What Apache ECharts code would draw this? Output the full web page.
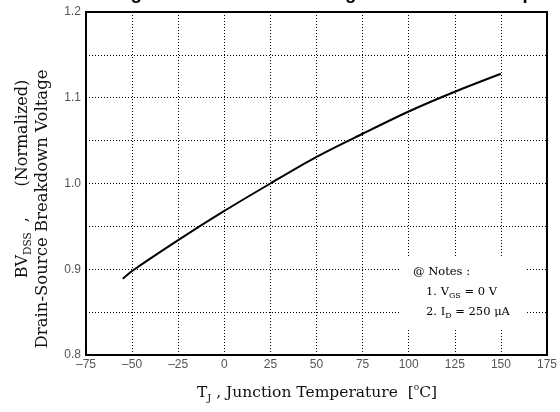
<!DOCTYPE html>
<html>
<head>
<meta charset="utf-8">
<script src="https://cdn.jsdelivr.net/npm/echarts@6/dist/echarts.min.js"></script>
<style>
html,body{margin:0;padding:0;background:#fff;}
#chart{width:560px;height:412px;}
</style>
</head>
<body>
<div id="chart"></div>
<script>
// Data
var temperatures = [-55, -50, -25, 0, 25, 50, 75, 100, 125, 150];
var bvdssNorm   = [0.889, 0.898, 0.934, 0.968, 1.000, 1.031, 1.058, 1.084, 1.107, 1.128];
var xTicks = [-75, -50, -25, 0, 25, 50, 75, 100, 125, 150, 175];
var yTicks = [0.8, 0.9, 1.0, 1.1, 1.2];

var titleText = 'Figure 7. Breakdown Voltage Variation vs. Temperature';

var chart = echarts.init(document.getElementById('chart'), null, {renderer: 'canvas'});

var serif = 'DejaVu Serif';
var tickFont = {color: '#555', fontFamily: 'Liberation Sans', fontSize: 12};

var option = {
  backgroundColor: '#fff',
  animation: false,
  title: {
    text: titleText,
    left: 114,
    top: -16,
    padding: 0,
    textStyle: {fontFamily: 'Liberation Sans', fontWeight: 'bold', fontSize: 18.5, color: '#000'}
  },
  grid: {
    left: 86, right: 11, top: 12, bottom: 57,
    show: true, borderColor: '#000', borderWidth: 2, backgroundColor: 'transparent'
  },
  xAxis: {
    type: 'value',
    min: xTicks[0], max: xTicks[xTicks.length - 1], interval: 25,
    axisLine: {show: true, onZero: false, lineStyle: {color: '#000', width: 2}},
    axisTick: {show: false},
    axisLabel: Object.assign({margin: 4, formatter: function (v) { return v < 0 ? '\u2013' + Math.abs(v) : String(v); }}, tickFont),
    splitLine: {show: true, lineStyle: {color: '#000', width: 1, type: [1, 2]}}
  },
  yAxis: {
    type: 'value',
    min: yTicks[0], max: yTicks[yTicks.length - 1], interval: 0.05,
    axisLine: {show: true, onZero: false, lineStyle: {color: '#000', width: 2}},
    axisTick: {show: false},
    axisLabel: Object.assign({margin: 5, formatter: function (v) {
      var r = Math.round(v * 100) / 100;
      for (var i = 0; i < yTicks.length; i++) { if (Math.abs(yTicks[i] - r) < 1e-9) return r.toFixed(1); }
      return '';
    }}, tickFont),
    splitLine: {show: true, lineStyle: {color: '#000', width: 1, type: [1, 2]}}
  },
  series: [{
    type: 'line',
    data: temperatures.map(function (t, i) { return [t, bvdssNorm[i]]; }),
    smooth: 0.3,
    showSymbol: false,
    lineStyle: {color: '#000', width: 2},
    z: 3
  }],
  graphic: [
    {
      type: 'text', x: 317, y: 393, z: 10,
      style: {
        text: '{a|T}{s|J}{a| , Junction Temperature  [}{p|o}{a|C]}',
        align: 'center', verticalAlign: 'middle',
        rich: {
          a: {fontFamily: serif, fontSize: 15.5, fill: '#111', lineHeight: 20},
          s: {fontFamily: serif, fontSize: 10, fill: '#111', lineHeight: 20, padding: [10, 0, 0, 0]},
          p: {fontFamily: serif, fontSize: 9, fill: '#111', lineHeight: 20, padding: [0, 0, 10, 0]}
        }
      }
    },
    {
      type: 'text', x: 23, y: 179, rotation: Math.PI / 2, z: 10,
      style: {
        text: '{a|BV}{s|DSS}{a|  ,      (Normalized)}',
        align: 'center', verticalAlign: 'middle',
        rich: {
          a: {fontFamily: serif, fontSize: 16, fill: '#111', lineHeight: 20},
          s: {fontFamily: serif, fontSize: 10.5, fill: '#111', lineHeight: 20, padding: [10, 0, 0, 0]}
        }
      }
    },
    {
      type: 'text', x: 43, y: 209, rotation: Math.PI / 2, z: 10,
      style: {
        text: 'Drain-Source Breakdown Voltage',
        align: 'center', verticalAlign: 'middle',
        fontFamily: serif, fontSize: 16.5, fill: '#111'
      }
    },
    {
      type: 'rect', z: 5,
      shape: {x: 401, y: 256, width: 126, height: 72},
      style: {fill: '#fff'}
    },
    {
      type: 'text', x: 413, y: 272, z: 10,
      style: {text: '@ Notes :', align: 'left', verticalAlign: 'middle', fontFamily: serif, fontSize: 11.5, fill: '#000'}
    },
    {
      type: 'text', x: 426, y: 292, z: 10,
      style: {
        text: '{a|1. V}{s|GS}{a| = 0 V}',
        align: 'left', verticalAlign: 'middle',
        rich: {
          a: {fontFamily: serif, fontSize: 11.5, fill: '#000', lineHeight: 16},
          s: {fontFamily: serif, fontSize: 8, fill: '#000', lineHeight: 16, padding: [8, 0, 0, 0]}
        }
      }
    },
    {
      type: 'text', x: 426, y: 312, z: 10,
      style: {
        text: '{a|2. I}{s|D}{a| = 250 \u03bcA}',
        align: 'left', verticalAlign: 'middle',
        rich: {
          a: {fontFamily: serif, fontSize: 11.5, fill: '#000', lineHeight: 16},
          s: {fontFamily: serif, fontSize: 8, fill: '#000', lineHeight: 16, padding: [8, 0, 0, 0]}
        }
      }
    }
  ]
};
chart.setOption(option);
</script>
</body>
</html>
